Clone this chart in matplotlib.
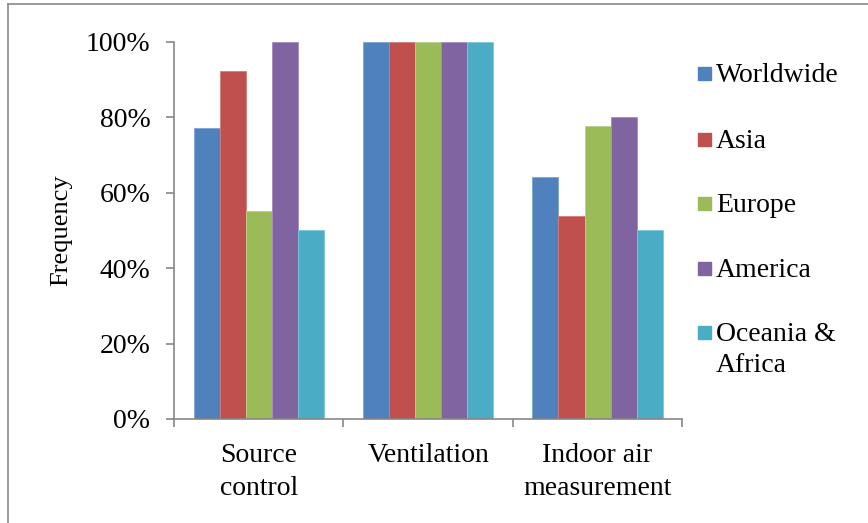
import matplotlib.pyplot as plt
import numpy as np
from matplotlib.patches import Rectangle
from matplotlib.lines import Line2D
from matplotlib.ticker import FuncFormatter, MultipleLocator

plt.rcParams['font.family'] = ['Liberation Serif', 'DejaVu Serif']

# Data
categories = ["Source\ncontrol", "Ventilation", "Indoor air\nmeasurement"]
regions = ["Worldwide", "Asia", "Europe", "America", "Oceania &\nAfrica"]
worldwide = [77.3, 100, 64.3]
asia = [92.3, 100, 53.8]
europe = [55.2, 100, 77.8]
america = [100, 100, 80.0]
oceania_africa = [50.0, 100, 50.0]
series = [worldwide, asia, europe, america, oceania_africa]

colors = ["#4F81BD", "#C0504D", "#9BBB59", "#8064A2", "#4BACC6"]
edges = ["#7EA3D3", "#D47C7A", "#B7D08A", "#A48CC0", "#7DC6DA"]

fig = plt.figure(figsize=(8.68, 5.23), dpi=100)
ax = fig.add_axes([0.2005, 0.199, 0.5855, 0.7207])

x = np.arange(len(categories))
bw = 1 / 6.5
for i, vals in enumerate(series):
    ax.bar(x + (i - 2) * bw, vals, width=bw, color=colors[i],
           edgecolor=edges[i], linewidth=0.6, zorder=2)

ax.set_xlim(-0.5, 2.5)
ax.set_ylim(0, 100)
ax.yaxis.set_major_locator(MultipleLocator(20))
ax.yaxis.set_major_formatter(FuncFormatter(lambda v, p: f"{v:.0f}%"))
ax.set_xticks(x)
ax.set_xticklabels(categories, linespacing=1.45)
ax.set_xticks(np.arange(-0.5, 3.0, 1.0), minor=True)

gray = "#868686"
for s in ["top", "right"]:
    ax.spines[s].set_visible(False)
for s in ["left", "bottom"]:
    ax.spines[s].set_color(gray)
    ax.spines[s].set_linewidth(1.2)

ax.tick_params(axis="y", which="major", length=6, width=1.2, color=gray,
               labelsize=20, pad=11)
ax.tick_params(axis="x", which="major", length=0, labelsize=20, pad=17)
ax.tick_params(axis="x", which="minor", length=6, width=1.2, color=gray)

ax.set_ylabel("Frequency", fontsize=19, labelpad=10)

# Legend drawn by hand so the marker sits by the first line of a wrapped label
leg_y = [73, 139, 203, 268, 332]
H, W = 523, 868
for i, name in enumerate(regions):
    yc = 1 - leg_y[i] / H
    fig.add_artist(Rectangle((698 / W, yc - 6.5 / H), 13 / W, 13 / H,
                             transform=fig.transFigure, color=colors[i]))
    fig.text(716 / W, 1 - (leg_y[i] - 10) / H, name, fontsize=20,
             va="top", ha="left", linespacing=1.3)

# Outer chart frame (left and top edges visible)
fig.add_artist(Line2D([8 / W, 8 / W], [0, 1 - 4 / H], transform=fig.transFigure,
                      color="#8A8A8A", linewidth=1.2))
fig.add_artist(Line2D([8 / W, 1], [1 - 4 / H, 1 - 4 / H], transform=fig.transFigure,
                      color="#8A8A8A", linewidth=1.2))

fig.savefig("out.png", dpi=100)
